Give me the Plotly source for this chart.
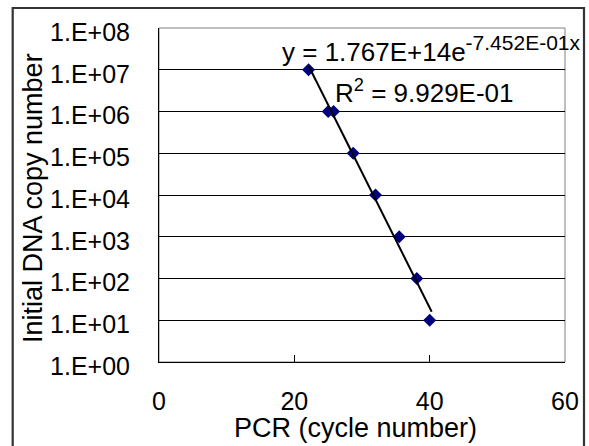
import plotly.graph_objects as go
import numpy as np

# Data
cycles = [22.1, 25.0, 25.8, 28.7, 32.0, 35.5, 38.1, 40.0]
copies = [1e7, 1e6, 1e6, 1e5, 1e4, 1e3, 1e2, 1e1]

# Trendline coefficients as shown on the chart
fit_a = 1.767e14
fit_b = -0.7452

y_tickvals = [1e0, 1e1, 1e2, 1e3, 1e4, 1e5, 1e6, 1e7, 1e8]
y_ticktext = ["1.E+00", "1.E+01", "1.E+02", "1.E+03", "1.E+04",
              "1.E+05", "1.E+06", "1.E+07", "1.E+08"]
x_tickvals = [0, 20, 40, 60]

x_title = "PCR (cycle number)"
y_title = "Initial DNA copy number"
eq_text = "y = 1.767E+14e<sup><span style=\"font-size:21px\">-7.452E-01x</span></sup>"
r2_text = "R<sup>2</sup> = 9.929E-01"

FONT = "Liberation Sans, Arial, sans-serif"

fit_x = np.linspace(min(cycles), max(cycles) + 0.3, 60)
fit_y = fit_a * np.exp(fit_b * fit_x)

fig = go.Figure()
fig.add_trace(go.Scatter(
    x=cycles, y=copies, mode="markers",
    marker=dict(symbol="diamond", size=10, color="#000080"),
    showlegend=False, hoverinfo="skip"))
fig.add_trace(go.Scatter(
    x=fit_x, y=fit_y, mode="lines",
    line=dict(color="black", width=2),
    showlegend=False, hoverinfo="skip"))

W, H = 589, 446
L, R, T, B = 159, 565, 28, 362
pw, ph = R - L, B - T


def px(x):
    return (x - L) / pw


def py(y):
    return (B - y) / ph


fig.update_layout(
    width=W, height=H,
    margin=dict(l=L, r=W - R, t=T, b=H - B, autoexpand=False),
    paper_bgcolor="white", plot_bgcolor="white",
    font=dict(family=FONT, size=25, color="black"),
    xaxis=dict(
        range=[0, 60], tickvals=x_tickvals,
        ticks="inside", ticklen=7, tickcolor="black", tickwidth=1,
        showline=True, linecolor="black", linewidth=1,
        showgrid=False, zeroline=False,
        ticklabelstandoff=17,
        tickfont=dict(size=25),
        automargin=False,
    ),
    yaxis=dict(
        type="log", range=[0, 8],
        tickvals=y_tickvals, ticktext=y_ticktext,
        ticks="inside", ticklen=5, tickcolor="black",
        showline=True, linecolor="black", linewidth=1,
        showgrid=True, gridcolor="black", gridwidth=1,
        zeroline=False,
        ticklabelstandoff=23,
        ticklabelshift=4,
        tickfont=dict(size=25),
        automargin=False,
    ),
    shapes=[
        # plot area border (gray on top/right)
        dict(type="rect", xref="paper", yref="paper", x0=0, x1=1, y0=0, y1=1,
             line=dict(color="#808080", width=1), layer="below"),
        # outer chart border
        dict(type="rect", xref="paper", yref="paper",
             x0=px(12.7), x1=px(584), y0=py(470), y1=py(8),
             line=dict(color="#333333", width=2.2), layer="below"),
    ],
    annotations=[
        dict(text=eq_text,
             xref="paper", yref="paper", x=px(280), y=py(49),
             xanchor="left", yanchor="middle", showarrow=False,
             font=dict(size=26)),
        dict(text=r2_text,
             xref="paper", yref="paper", x=px(333), y=py(91),
             xanchor="left", yanchor="middle", showarrow=False,
             font=dict(size=26)),
        dict(text=x_title,
             xref="paper", yref="paper", x=px(355), y=py(428),
             xanchor="center", yanchor="middle", showarrow=False,
             font=dict(size=27)),
        dict(text=y_title, textangle=-90,
             xref="paper", yref="paper", x=px(33), y=py(198),
             xanchor="center", yanchor="middle", showarrow=False,
             font=dict(size=27)),
    ],
)

fig.write_html("out.html", config={"displayModeBar": False},
               post_script="document.body.style.margin='0';")
